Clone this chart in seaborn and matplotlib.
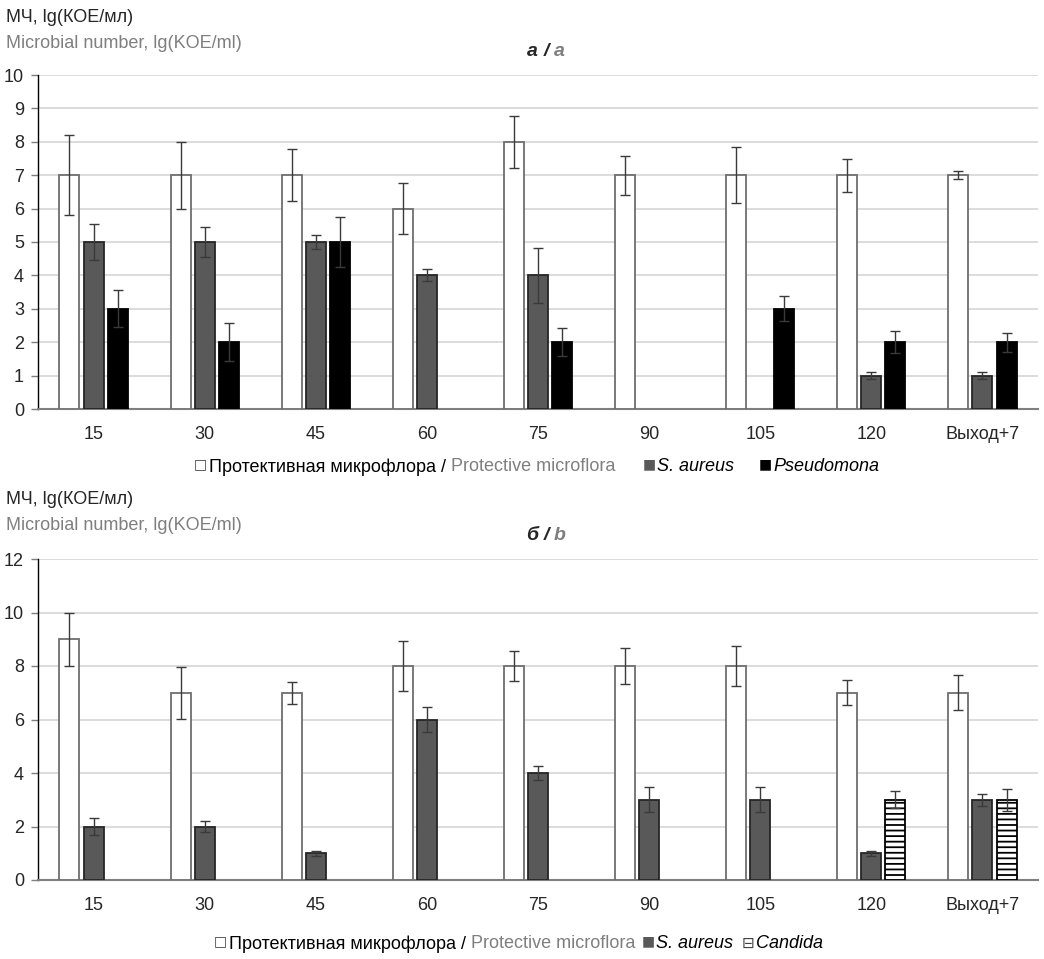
import numpy as np
import pandas as pd
import matplotlib
matplotlib.use("Agg")
import matplotlib.pyplot as plt
import seaborn as sns

# categories (time points)
times = ["15", "30", "45", "60", "75", "90", "105", "120", "Выход+7"]

# panel a / a
prot_a = [7, 7, 7, 6, 8, 7, 7, 7, 7]
prot_a_err = [1.2, 1.0, 0.77, 0.77, 0.78, 0.58, 0.83, 0.5, 0.12]
saur_a = [5, 5, 5, 4, 4, np.nan, np.nan, 1, 1]
saur_a_err = [0.53, 0.45, 0.22, 0.18, 0.83, np.nan, np.nan, 0.1, 0.1]
pseu_a = [3, 2, 5, np.nan, 2, np.nan, 3, 2, 2]
pseu_a_err = [0.55, 0.57, 0.75, np.nan, 0.42, np.nan, 0.37, 0.33, 0.28]

# panel б / b
prot_b = [9, 7, 7, 8, 8, 8, 8, 7, 7]
prot_b_err = [1.0, 0.97, 0.42, 0.94, 0.57, 0.66, 0.75, 0.46, 0.65]
saur_b = [2, 2, 1, 6, 4, 3, 3, 1, 3]
saur_b_err = [0.3, 0.22, 0.1, 0.46, 0.28, 0.46, 0.46, 0.1, 0.22]
cand_b = [np.nan, np.nan, np.nan, np.nan, np.nan, np.nan, np.nan, 3, 3]
cand_b_err = [np.nan, np.nan, np.nan, np.nan, np.nan, np.nan, np.nan, 0.31, 0.41]

groups_a = ["prot", "saur", "pseu"]
groups_b = ["prot", "saur", "cand"]

face = {"prot": "white", "saur": "#595959", "pseu": "black", "cand": "white"}
edge = {"prot": "#6e6e6e", "saur": "#262626", "pseu": "black", "cand": "black"}

GRAY_TXT = "#7f7f7f"
FONT = ["Liberation Sans", "DejaVu Sans"]
FS = 13

sns.set_style("white")
plt.rcParams["font.family"] = FONT
plt.rcParams["hatch.linewidth"] = 1.3


def long_df(names, series, errs):
    rows = []
    for name, vals, ee in zip(names, series, errs):
        for t, v, e in zip(times, vals, ee):
            rows.append({"time": t, "group": name, "value": v, "err": e})
    return pd.DataFrame(rows)


def draw(ax, df, names, ymax, step):
    sns.barplot(data=df, x="time", y="value", hue="group", order=times,
                hue_order=names, palette=face, width=0.65, gap=0.17,
                errorbar=None, legend=False, ax=ax, zorder=3)
    for cont, name in zip(ax.containers, names):
        sub = df[df.group == name].dropna(subset=["value"])
        for bar, (_, row) in zip(cont, sub.iterrows()):
            bar.set_edgecolor(edge[name])
            bar.set_linewidth(1.3)
            if name == "cand":
                bar.set_hatch("---")
            x = bar.get_x() + bar.get_width() / 2
            ax.errorbar(x, bar.get_height(), yerr=row.err, fmt="none",
                        ecolor="#3a3a3a", elinewidth=1, capsize=3.6,
                        capthick=1, zorder=4)
    ax.set_xlim(-0.5, 8.5)
    ax.set_ylim(0, ymax)
    ax.set_yticks(np.arange(0, ymax + 1, step))
    ax.yaxis.grid(True, color="#d9d9d9", lw=1.3, zorder=0)
    ax.set_axisbelow(True)
    ax.set_xlabel("")
    ax.set_ylabel("")
    for s in ["top", "right"]:
        ax.spines[s].set_visible(False)
    ax.spines["left"].set_color("black")
    ax.spines["left"].set_linewidth(1)
    ax.spines["bottom"].set_color("#7f7f7f")
    ax.spines["bottom"].set_linewidth(1.5)
    ax.tick_params(axis="y", left=True, length=5, width=1, color="#7f7f7f",
                   labelsize=FS, pad=5)
    ax.tick_params(axis="x", bottom=False, labelsize=FS, pad=9)


def text_chain(ax, fig, x, y, pieces):
    # pieces: (text, color, style, gap in points before, size, raise in points)
    txt, col, sty, _, fs, dy = pieces[0]
    prev = fig.text(x, y + dy * 100 / 72 / 959, txt, color=col, fontsize=fs,
                    va="center", ha="left", **sty)
    for txt, col, sty, pad, fs, dy in pieces[1:]:
        prev = ax.annotate(txt, xy=(1, y), xycoords=(prev, "figure fraction"),
                           xytext=(pad, dy), textcoords="offset points",
                           color=col, fontsize=fs, va="center", ha="left",
                           annotation_clip=False, **sty)


fig = plt.figure(figsize=(10.44, 9.59), dpi=100)
ax_a = fig.add_axes([38 / 1044, 1 - 409 / 959, 1000 / 1044, 334 / 959])
ax_b = fig.add_axes([38 / 1044, 1 - 880 / 959, 1000 / 1044, 321 / 959])

df_a = long_df(groups_a, [prot_a, saur_a, pseu_a], [prot_a_err, saur_a_err, pseu_a_err])
df_b = long_df(groups_b, [prot_b, saur_b, cand_b], [prot_b_err, saur_b_err, cand_b_err])

draw(ax_a, df_a, groups_a, 10, 1)
draw(ax_b, df_b, groups_b, 12, 2)

# y titles
for y0 in [18, 500]:
    fig.text(6 / 1044, 1 - y0 / 959, "МЧ, lg(КОЕ/мл)", fontsize=FS,
             va="center", ha="left")
    fig.text(6 / 1044, 1 - (y0 + 25) / 959, "Microbial number, lg(KOE/ml)",
             fontsize=FS, color=GRAY_TXT, va="center", ha="left")

# panel titles
for y0, left, right in [(52, "а", "a"), (535, "б", "b")]:
    yy = 1 - y0 / 959
    kw = dict(fontsize=14, fontweight="bold", fontstyle="italic", va="center")
    fig.text(546 / 1044, yy, "/", ha="center", **kw)
    fig.text(538 / 1044, yy, left, ha="right", **kw)
    fig.text(554 / 1044, yy, right, ha="left", color=GRAY_TXT, **kw)

# legends
plain = {}
ital = {"fontstyle": "italic"}
mark = {"family": ["DejaVu Sans"]}
up = 2.0
text_chain(ax_a, fig, 194 / 1044, 1 - 467 / 959, [
    ("□", "#404040", mark, 0, 10, up),
    ("Протективная микрофлора / ", "black", plain, 1, FS, 0),
    ("Protective microflora", GRAY_TXT, plain, 0, FS, 0),
    ("■", "#595959", mark, 20, 10, up),
    ("S. aureus", "black", ital, 1, FS, 0),
    ("■", "black", mark, 18, 10, up),
    ("Pseudomona", "black", ital, 1, FS, 0),
])
text_chain(ax_b, fig, 214 / 1044, 1 - 944 / 959, [
    ("□", "#404040", mark, 0, 10, up),
    ("Протективная микрофлора / ", "black", plain, 1, FS, 0),
    ("Protective microflora", GRAY_TXT, plain, 0, FS, 0),
    ("■", "#595959", mark, 5, 10, up),
    ("S. aureus", "black", ital, 1, FS, 0),
    ("⊟", "#404040", mark, 6, 11, 0.5),
    ("Candida", "black", ital, 1, FS, 0),
])

fig.savefig("out.png", dpi=100, facecolor="white")
